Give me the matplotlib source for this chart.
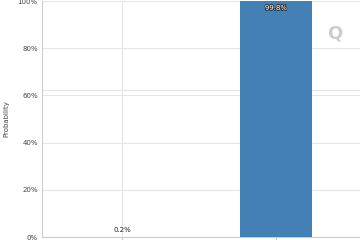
import matplotlib.pyplot as plt
import matplotlib.patheffects as pe

categories = ['0', '1']
probabilities = [0.2, 99.8]
value_labels = ['0.2%', '99.8%']
y_ticks = [0, 20, 40, 60, 80, 100]

fig = plt.figure(figsize=(3.6, 2.4), dpi=100)
ax = fig.add_axes([42 / 360, 3 / 240, 318 / 360, 236 / 240])

x = list(range(len(categories)))
ax.bar(x, probabilities, width=0.47, color='#4380b6', zorder=3)

# value labels
ax.text(x[0], probabilities[0] + 1.5, value_labels[0], ha='center', va='bottom',
        fontsize=5, color='#222222', zorder=4)
ax.text(x[1], probabilities[1] - 1.5, value_labels[1], ha='center', va='top',
        fontsize=5, color='white', zorder=4,
        path_effects=[pe.withStroke(linewidth=1.2, foreground='#333333')])

ax.set_xlim(-0.52, 1.545)
ax.set_ylim(0, 100)
ax.set_yticks(y_ticks)
ax.set_yticklabels(['{}%'.format(t) for t in y_ticks])
ax.set_xticks(x)
ax.set_xticklabels([])
ax.tick_params(axis='y', labelsize=5, colors='#444444', length=0, pad=3)
ax.tick_params(axis='x', length=2, color='#cccccc')
ax.grid(True, color='#e6e6e6', linewidth=0.8, zorder=0)
ax.set_ylabel('Probability', fontsize=5, color='#444444', labelpad=6)

for side in ['top', 'right']:
    ax.spines[side].set_visible(False)
ax.spines['left'].set_color('#cccccc')
ax.spines['bottom'].set_color('#cccccc')

# faint watermark
ax.axhline(62.5, color='#e6e6e6', linewidth=0.8, zorder=1)
fig.text(0.93, 0.86, 'Q', fontsize=13, color='#cccccc', ha='center', va='center',
         fontweight='bold')

fig.savefig('out.png', dpi=100)
